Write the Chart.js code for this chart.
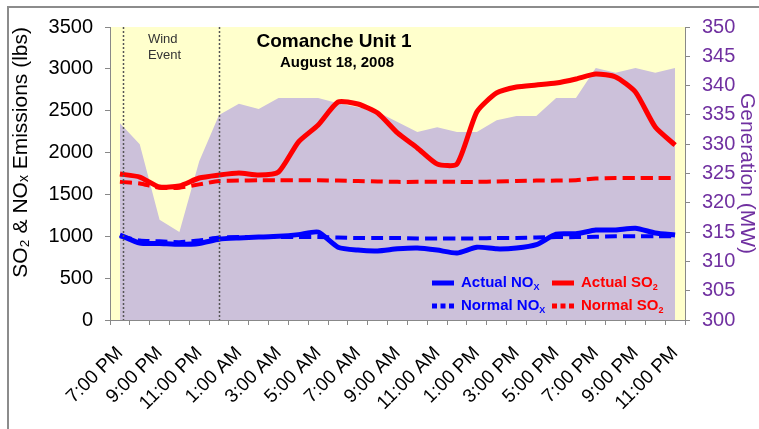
<!DOCTYPE html>
<html><head><meta charset="utf-8">
<script src="https://cdn.jsdelivr.net/npm/chart.js@4.4.0/dist/chart.umd.min.js"></script>
<style>
html,body{margin:0;padding:0;background:#fff;overflow:hidden;}
#wrap{position:relative;width:759px;height:429px;overflow:hidden;}
#frame{position:absolute;left:7px;top:6px;width:820px;height:520px;border:2px solid #8c8c8c;box-sizing:border-box;pointer-events:none;}
canvas{position:absolute;left:0;top:0;}
</style></head><body>
<div id="wrap"><canvas id="c" width="759" height="429"></canvas><div id="frame"></div></div>
<script>
// ---- data ----
const hours = ['7:00 PM','8:00 PM','9:00 PM','10:00 PM','11:00 PM','12:00 AM','1:00 AM','2:00 AM','3:00 AM','4:00 AM','5:00 AM','6:00 AM','7:00 AM','8:00 AM','9:00 AM','10:00 AM','11:00 AM','12:00 PM','1:00 PM','2:00 PM','3:00 PM','4:00 PM','5:00 PM','6:00 PM','7:00 PM','8:00 PM','9:00 PM','10:00 PM','11:00 PM'];
const generationMW = [333.6,330.0,317.1,315.0,327.1,335.0,336.9,336.0,337.9,337.9,337.9,337.0,336.3,335.5,333.8,332.1,332.9,332.1,332.1,334.1,334.8,334.8,337.9,337.9,343.0,342.2,343.0,342.2,343.0];
const actualSO2 = [1744,1708,1589,1601,1696,1732,1756,1732,1768,2126,2329,2604,2580,2473,2234,2055,1863,1863,2485,2712,2783,2807,2831,2879,2938,2903,2723,2305,2090];
const normalSO2 = [1650,1630,1580,1580,1620,1660,1665,1670,1670,1670,1670,1665,1660,1655,1650,1650,1650,1650,1650,1655,1660,1665,1665,1670,1690,1695,1695,1695,1695];
const actualNOx = [1015,920,915,905,915,965,980,990,1000,1020,1050,870,835,825,850,860,835,800,870,850,860,900,1025,1030,1075,1075,1095,1040,1015];
const normalNOx = [1000,950,940,930,950,985,990,990,990,990,990,985,980,980,980,975,975,975,975,980,980,985,990,990,995,1000,1000,1000,1000];
const windEventBounds = [0.15, 5];
const chartTitle = 'Comanche Unit 1';
const chartSubtitle = 'August 18, 2008';
const windLabel = ['Wind', 'Event'];
const leftAxisTitle = 'SO₂ & NOₓ Emissions (lbs)';
const rightAxisTitle = 'Generation (MW)';

const FONT = '"Liberation Sans", Arial, sans-serif';
const NARROW = '"Liberation Sans Narrow", "Liberation Sans", Arial, sans-serif';
const RED = '#FF0000', BLUE = '#0000FF', PURPLE = '#7030A0';

function drawRich(ctx, text, x, y, size, weight, family) {
  const subMap = {'₂':'2','ₓ':'X'};
  let cx = x;
  let run = '';
  const flush = () => {
    if (!run) return;
    ctx.font = `${weight} ${size}px ${family}`;
    ctx.fillText(run, cx, y);
    cx += ctx.measureText(run).width;
    run = '';
  };
  for (const ch of text) {
    if (subMap[ch]) {
      flush();
      const s = Math.round(size * 0.62);
      ctx.font = `${weight} ${s}px ${family}`;
      ctx.fillText(subMap[ch], cx, y + size * 0.28);
      cx += ctx.measureText(subMap[ch]).width;
    } else run += ch;
  }
  flush();
}

const decor = {
  id: 'decor',
  beforeDraw(chart) {
    const {ctx, chartArea: a} = chart;
    ctx.save();
    ctx.fillStyle = '#FFFFCC';
    ctx.fillRect(a.left, a.top, a.right - a.left, a.bottom - a.top);
    ctx.restore();
  },
  afterDatasetsDraw(chart) {
    const {ctx, chartArea: a, scales} = chart;
    ctx.save();
    ctx.strokeStyle = '#555';
    ctx.lineWidth = 1.5;
    ctx.setLineDash([2, 2]);
    windEventBounds.forEach(v => {
      const x = Math.round(scales.x.getPixelForValue(v)) + 0.5;
      ctx.beginPath(); ctx.moveTo(x, a.top); ctx.lineTo(x, a.bottom); ctx.stroke();
    });
    ctx.restore();
  },
  afterDraw(chart) {
    const {ctx, chartArea: a, scales} = chart;
    ctx.save();
    ctx.fillStyle = '#000';
    ctx.textAlign = 'center';
    ctx.textBaseline = 'middle';
    ctx.font = `bold 19px ${FONT}`;
    ctx.fillText(chartTitle, a.left + 224, a.top + 15);
    ctx.font = `bold 15px ${FONT}`;
    ctx.fillText(chartSubtitle, a.left + 227, a.top + 36);
    ctx.textAlign = 'left';
    ctx.fillStyle = '#333';
    ctx.font = `13px ${NARROW}`;
    const wx = scales.x.getPixelForValue(windEventBounds[0]) + 25;
    ctx.fillText(windLabel[0], wx, a.top + 12);
    ctx.fillText(windLabel[1], wx, a.top + 28);
    const ds = chart.data.datasets;
    const entries = [
      {d: ds[0], col: 0, row: 0},
      {d: ds[2], col: 1, row: 0},
      {d: ds[1], col: 0, row: 1},
      {d: ds[3], col: 1, row: 1}
    ];
    const colX = [a.right - 253, a.right - 133];
    const rowY = [a.bottom - 37, a.bottom - 14];
    entries.forEach(e => {
      const x = colX[e.col], y = rowY[e.row];
      ctx.strokeStyle = e.d.borderColor;
      ctx.lineWidth = 5;
      ctx.setLineDash(e.d.borderDash && e.d.borderDash.length ? [5, 3.5] : []);
      ctx.beginPath(); ctx.moveTo(x, y); ctx.lineTo(x + 22, y); ctx.stroke();
      ctx.setLineDash([]);
      ctx.fillStyle = e.d.borderColor;
      ctx.textBaseline = 'middle';
      drawRich(ctx, e.d.label, x + 29, y, 15, 'bold', NARROW);
    });
    ctx.restore();
  }
};

new Chart(document.getElementById('c'), {
  type: 'line',
  data: {
    labels: hours,
    datasets: [
      {label: 'Actual NOₓ', data: actualNOx, borderColor: BLUE, backgroundColor: BLUE, borderWidth: 5, yAxisID: 'y', order: 1},
      {label: 'Normal NOₓ', data: normalNOx, borderColor: BLUE, backgroundColor: BLUE, borderWidth: 4, borderDash: [12, 6], yAxisID: 'y', order: 2},
      {label: 'Actual SO₂', data: actualSO2, borderColor: RED, backgroundColor: RED, borderWidth: 5, yAxisID: 'y', order: 1},
      {label: 'Normal SO₂', data: normalSO2, borderColor: RED, backgroundColor: RED, borderWidth: 4, borderDash: [12, 6], yAxisID: 'y', order: 2},
      {label: 'Generation (MW)', data: generationMW, borderColor: '#CCC1DA', backgroundColor: '#CCC1DA', borderWidth: 0, fill: 'start', tension: 0, yAxisID: 'y2', order: 10}
    ]
  },
  options: {
    responsive: false,
    animation: false,
    devicePixelRatio: 1,
    layout: {padding: {top: 27, left: 0, right: 0, bottom: 0}},
    elements: {point: {radius: 0, hoverRadius: 0}, line: {tension: 0.2, borderCapStyle: 'butt', borderJoinStyle: 'round'}},
    plugins: {legend: {display: false}, tooltip: {enabled: false}},
    scales: {
      x: {
        type: 'category',
        offset: true,
        grid: {offset: true, drawOnChartArea: false, drawTicks: true, tickLength: 5, color: '#888'},
        border: {color: '#888'},
        ticks: {
          autoSkip: false, minRotation: 45, maxRotation: 45, padding: 17,
          color: '#000', font: {size: 19, family: FONT},
          callback: (v, i) => (i % 2 === 0 ? hours[i] : '')
        },
        afterFit: s => { s.height = 109; }
      },
      y: {
        position: 'left', min: 0, max: 3500,
        grid: {drawOnChartArea: false, drawTicks: true, tickLength: 5, color: '#888'},
        border: {color: '#888'},
        ticks: {stepSize: 500, padding: 12, color: '#000', font: {size: 20, family: FONT}, callback: v => String(v)},
        title: {display: true, text: leftAxisTitle, align: 'end', color: '#000', font: {size: 21, family: FONT}, padding: {top: 9, bottom: 0}},
        afterFit: s => { s.width = 110; }
      },
      y2: {
        position: 'right', min: 300, max: 350,
        grid: {drawOnChartArea: false, drawTicks: true, tickLength: 5, color: '#888'},
        border: {color: '#888'},
        ticks: {stepSize: 5, padding: 12, color: PURPLE, font: {size: 20, family: FONT}, callback: v => String(v)},
        title: {display: true, text: rightAxisTitle, color: PURPLE, font: {size: 21, family: FONT}, padding: {top: 0, bottom: 0}},
        afterFit: s => { s.width = 74; }
      }
    }
  },
  plugins: [decor]
});
</script>
</body></html>
